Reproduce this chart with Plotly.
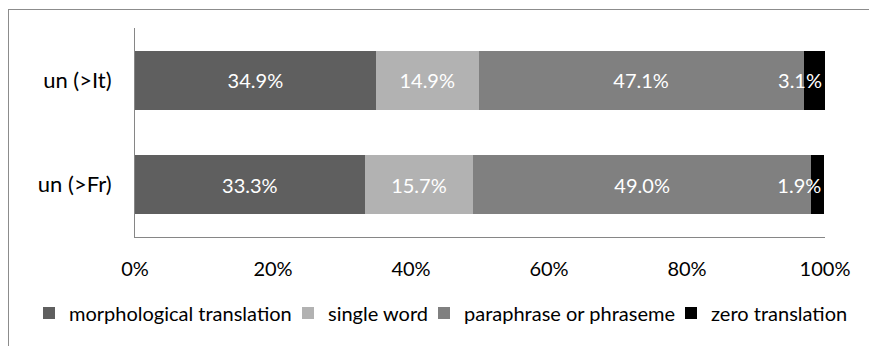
import plotly.graph_objects as go

# Categories listed bottom-to-top (Plotly draws the first category at the bottom)
categories = ["un (>Fr)", "un (>It)"]

series_names = [
    "morphological translation",
    "single word",
    "paraphrase or phraseme",
    "zero translation",
]
morphological = [33.3, 34.9]
single_word = [15.7, 14.9]
paraphrase = [49.0, 47.1]
zero = [1.9, 3.1]

series_values = [morphological, single_word, paraphrase, zero]
colors = ["#5f5f5f", "#b2b2b2", "#808080", "#000000"]

x_ticks = [0, 20, 40, 60, 80, 100]
x_tick_labels = ["0%", "20%", "40%", "60%", "80%", "100%"]

FONT = "Lato"

# plot area in pixels
L, R, T, B = 135, 44, 28, 110
W, H = 869, 347
PW, PH = W - L - R, H - T - B


def px_x(px):
    return (px - L) / PW


def px_y(py):
    return (H - B - py) / PH


# one legend per series so each entry sits at its own horizontal slot
legend_ids = ["legend", "legend2", "legend3", "legend4"]
legend_left_px = [29, 288, 424, 671]

fig = go.Figure()
for name, vals, col, lid in zip(series_names, series_values, colors, legend_ids):
    is_small = name == "zero translation"
    fig.add_trace(
        go.Bar(
            y=categories,
            x=vals,
            name=name,
            orientation="h",
            legend=lid,
            marker=dict(color=col, line=dict(width=0)),
            texttemplate="%{x:.1f}%",
            textposition="inside",
            insidetextanchor="end" if is_small else "middle",
            constraintext="none",
            textangle=0,
            textfont=dict(color="white", size=20, family=FONT),
            hoverinfo="skip",
        )
    )

legend_layout = {}
for lid, lx in zip(legend_ids, legend_left_px):
    legend_layout[lid] = dict(
        orientation="h",
        x=px_x(lx),
        xanchor="left",
        y=px_y(313),
        yanchor="middle",
        font=dict(size=20, family=FONT, color="#000000"),
        bgcolor="rgba(0,0,0,0)",
        itemwidth=30,
    )

fig.update_layout(
    barmode="stack",
    bargap=0.435,
    width=W,
    height=H,
    margin=dict(l=L, r=R, t=T, b=B),
    paper_bgcolor="white",
    plot_bgcolor="white",
    font=dict(family=FONT, size=20, color="#000000"),
    showlegend=True,
    xaxis=dict(
        range=[0, 100],
        tickvals=x_ticks,
        ticktext=x_tick_labels,
        showgrid=False,
        zeroline=False,
        showline=True,
        linecolor="#868686",
        linewidth=1,
        ticks="",
        ticklabelstandoff=14,
        fixedrange=True,
    ),
    yaxis=dict(
        showgrid=False,
        zeroline=False,
        showline=True,
        linecolor="#868686",
        linewidth=1,
        ticks="",
        ticklabelstandoff=18,
        tickfont=dict(size=22, family=FONT),
        fixedrange=True,
    ),
    shapes=[
        # chart frame: top and left edges
        dict(type="line", xref="paper", yref="paper",
             x0=px_x(8), x1=px_x(870),
             y0=px_y(9.5), y1=px_y(9.5),
             line=dict(color="#8c8c8c", width=1)),
        dict(type="line", xref="paper", yref="paper",
             x0=px_x(8.5), x1=px_x(8.5),
             y0=px_y(9.5), y1=px_y(346),
             line=dict(color="#8c8c8c", width=1)),
    ],
    **legend_layout,
)

fig.write_html("out.html")
